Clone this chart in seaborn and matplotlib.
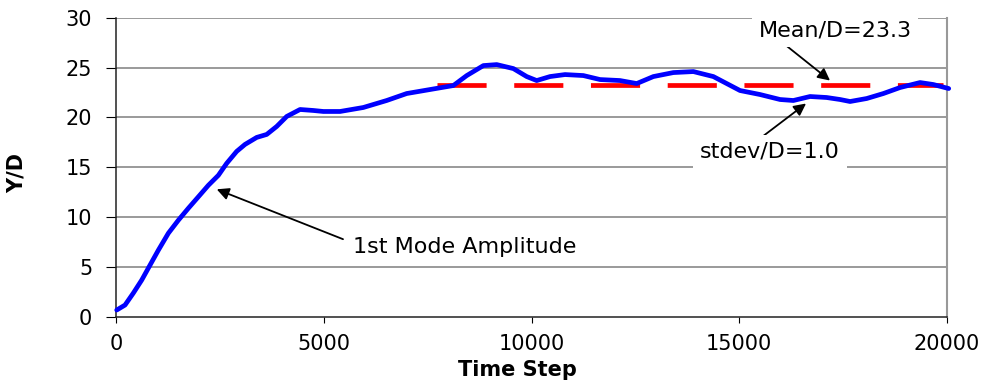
import matplotlib
matplotlib.use("Agg")
import matplotlib.pyplot as plt
import pandas as pd
import seaborn as sns

# Amplitude history of the first mode (time step, Y/D)
time_step = [17, 217, 417, 618, 818, 1019, 1260, 1500, 1741, 1982, 2222, 2463,
             2663, 2904, 3105, 3386, 3627, 3867, 4108, 4429, 4750, 4990,
             5391, 5952, 6514, 6996, 7557, 8118, 8441, 8841, 9162, 9563, 9884,
             10124, 10445, 10806, 11247, 11649, 12130, 12532, 12932, 13413,
             13895, 14376, 14697, 15018, 15499, 15981, 16301, 16703, 17103,
             17425, 17666, 18067, 18468, 18869, 19350, 19671, 20040]
amplitude = [0.7, 1.2, 2.4, 3.7, 5.2, 6.7, 8.4, 9.7, 10.9, 12.05, 13.2, 14.2,
             15.4, 16.6, 17.3, 18.0, 18.3, 19.1, 20.1, 20.8, 20.7, 20.6,
             20.6, 21.0, 21.7, 22.4, 22.8, 23.2, 24.2, 25.2, 25.3, 24.9, 24.1,
             23.7, 24.1, 24.3, 24.2, 23.8, 23.7, 23.4, 24.1, 24.5,
             24.6, 24.1, 23.4, 22.7, 22.3, 21.8, 21.7, 22.1, 22.0,
             21.8, 21.6, 21.9, 22.4, 23.0, 23.5, 23.3, 22.9]

# Statistics over the settled part of the record
mean_span = [7718, 19897]
mean_value = 23.3
stdev_value = 1.0

x_ticks = [0, 5000, 10000, 15000, 20000]
y_ticks = [0, 5, 10, 15, 20, 25, 30]

amp_df = pd.DataFrame({"step": time_step, "yd": amplitude})
mean_df = pd.DataFrame({"step": mean_span, "yd": [mean_value] * len(mean_span)})

sns.set_theme(style="white")
plt.rcParams["font.family"] = ["DejaVu Sans"]
plt.rcParams["text.color"] = "black"
plt.rcParams["axes.labelcolor"] = "black"

fig = plt.figure(figsize=(9.95, 3.83), dpi=100)
ax = fig.add_axes([0.1166, 0.1723, 0.8352, 0.7815])

grid_color = "#7f7f7f"
for y in y_ticks[1:]:
    ax.axhline(y, color=grid_color, lw=1.1, zorder=0)

sns.lineplot(data=mean_df, x="step", y="yd", ax=ax, color="#ff0000",
             lw=3.4, dashes=False, zorder=3)
ax.lines[-1].set_dashes((10.4, 5.85))
sns.lineplot(data=amp_df, x="step", y="yd", ax=ax, color="#0000ff",
             lw=3.4, zorder=4, clip_on=False)
ax.lines[-1].set_solid_joinstyle("round")
ax.lines[-1].set_solid_capstyle("round")

ax.set_xlim(0, 20000)
ax.set_ylim(0, 30)
ax.set_xticks(x_ticks)
ax.set_yticks(y_ticks)
ax.tick_params(axis="both", labelsize=15, colors="black")
ax.tick_params(axis="y", direction="out", length=7.2, width=0.8, left=True, pad=10)
ax.tick_params(axis="x", direction="out", length=4.3, width=0.8, bottom=True, pad=8)

for side in ("left", "bottom"):
    ax.spines[side].set_color("#222222")
    ax.spines[side].set_linewidth(1.1)
ax.spines["right"].set_color("#999999")
ax.spines["right"].set_linewidth(1.5)
ax.spines["top"].set_visible(False)

ax.set_xlabel("Time Step", fontsize=15, fontweight="bold")
ax.set_ylabel("Y/D", fontsize=15, fontweight="bold")
ax.xaxis.set_label_coords(0.483, -0.142)
ax.yaxis.set_label_coords(-0.108, 0.48)

arrow = dict(arrowstyle="-|>", color="black", lw=1.3, mutation_scale=18,
             shrinkA=0, shrinkB=0)
box = dict(boxstyle="square,pad=0.3", fc="white", ec="none")

ax.annotate("", xy=(2424, 12.8), xytext=(5463, 7.8), arrowprops=arrow, zorder=5)
ax.text(5704, 7.0, "1st Mode Amplitude", fontsize=16, ha="left", va="center",
        zorder=5)

ax.annotate("", xy=(17184, 23.7), xytext=(15980, 27.7), arrowprops=arrow, zorder=5)
ax.text(17304, 28.75, f"Mean/D={mean_value}", fontsize=16, ha="center",
        va="center", bbox=box, zorder=6, clip_on=False)

ax.annotate("", xy=(16607, 21.4), xytext=(15500, 17.9), arrowprops=arrow, zorder=5)
ax.text(15740, 16.6, f"stdev/D={stdev_value}", fontsize=16, ha="center",
        va="center", bbox=box, zorder=6)

fig.savefig("out.png", dpi=100, facecolor="white")
